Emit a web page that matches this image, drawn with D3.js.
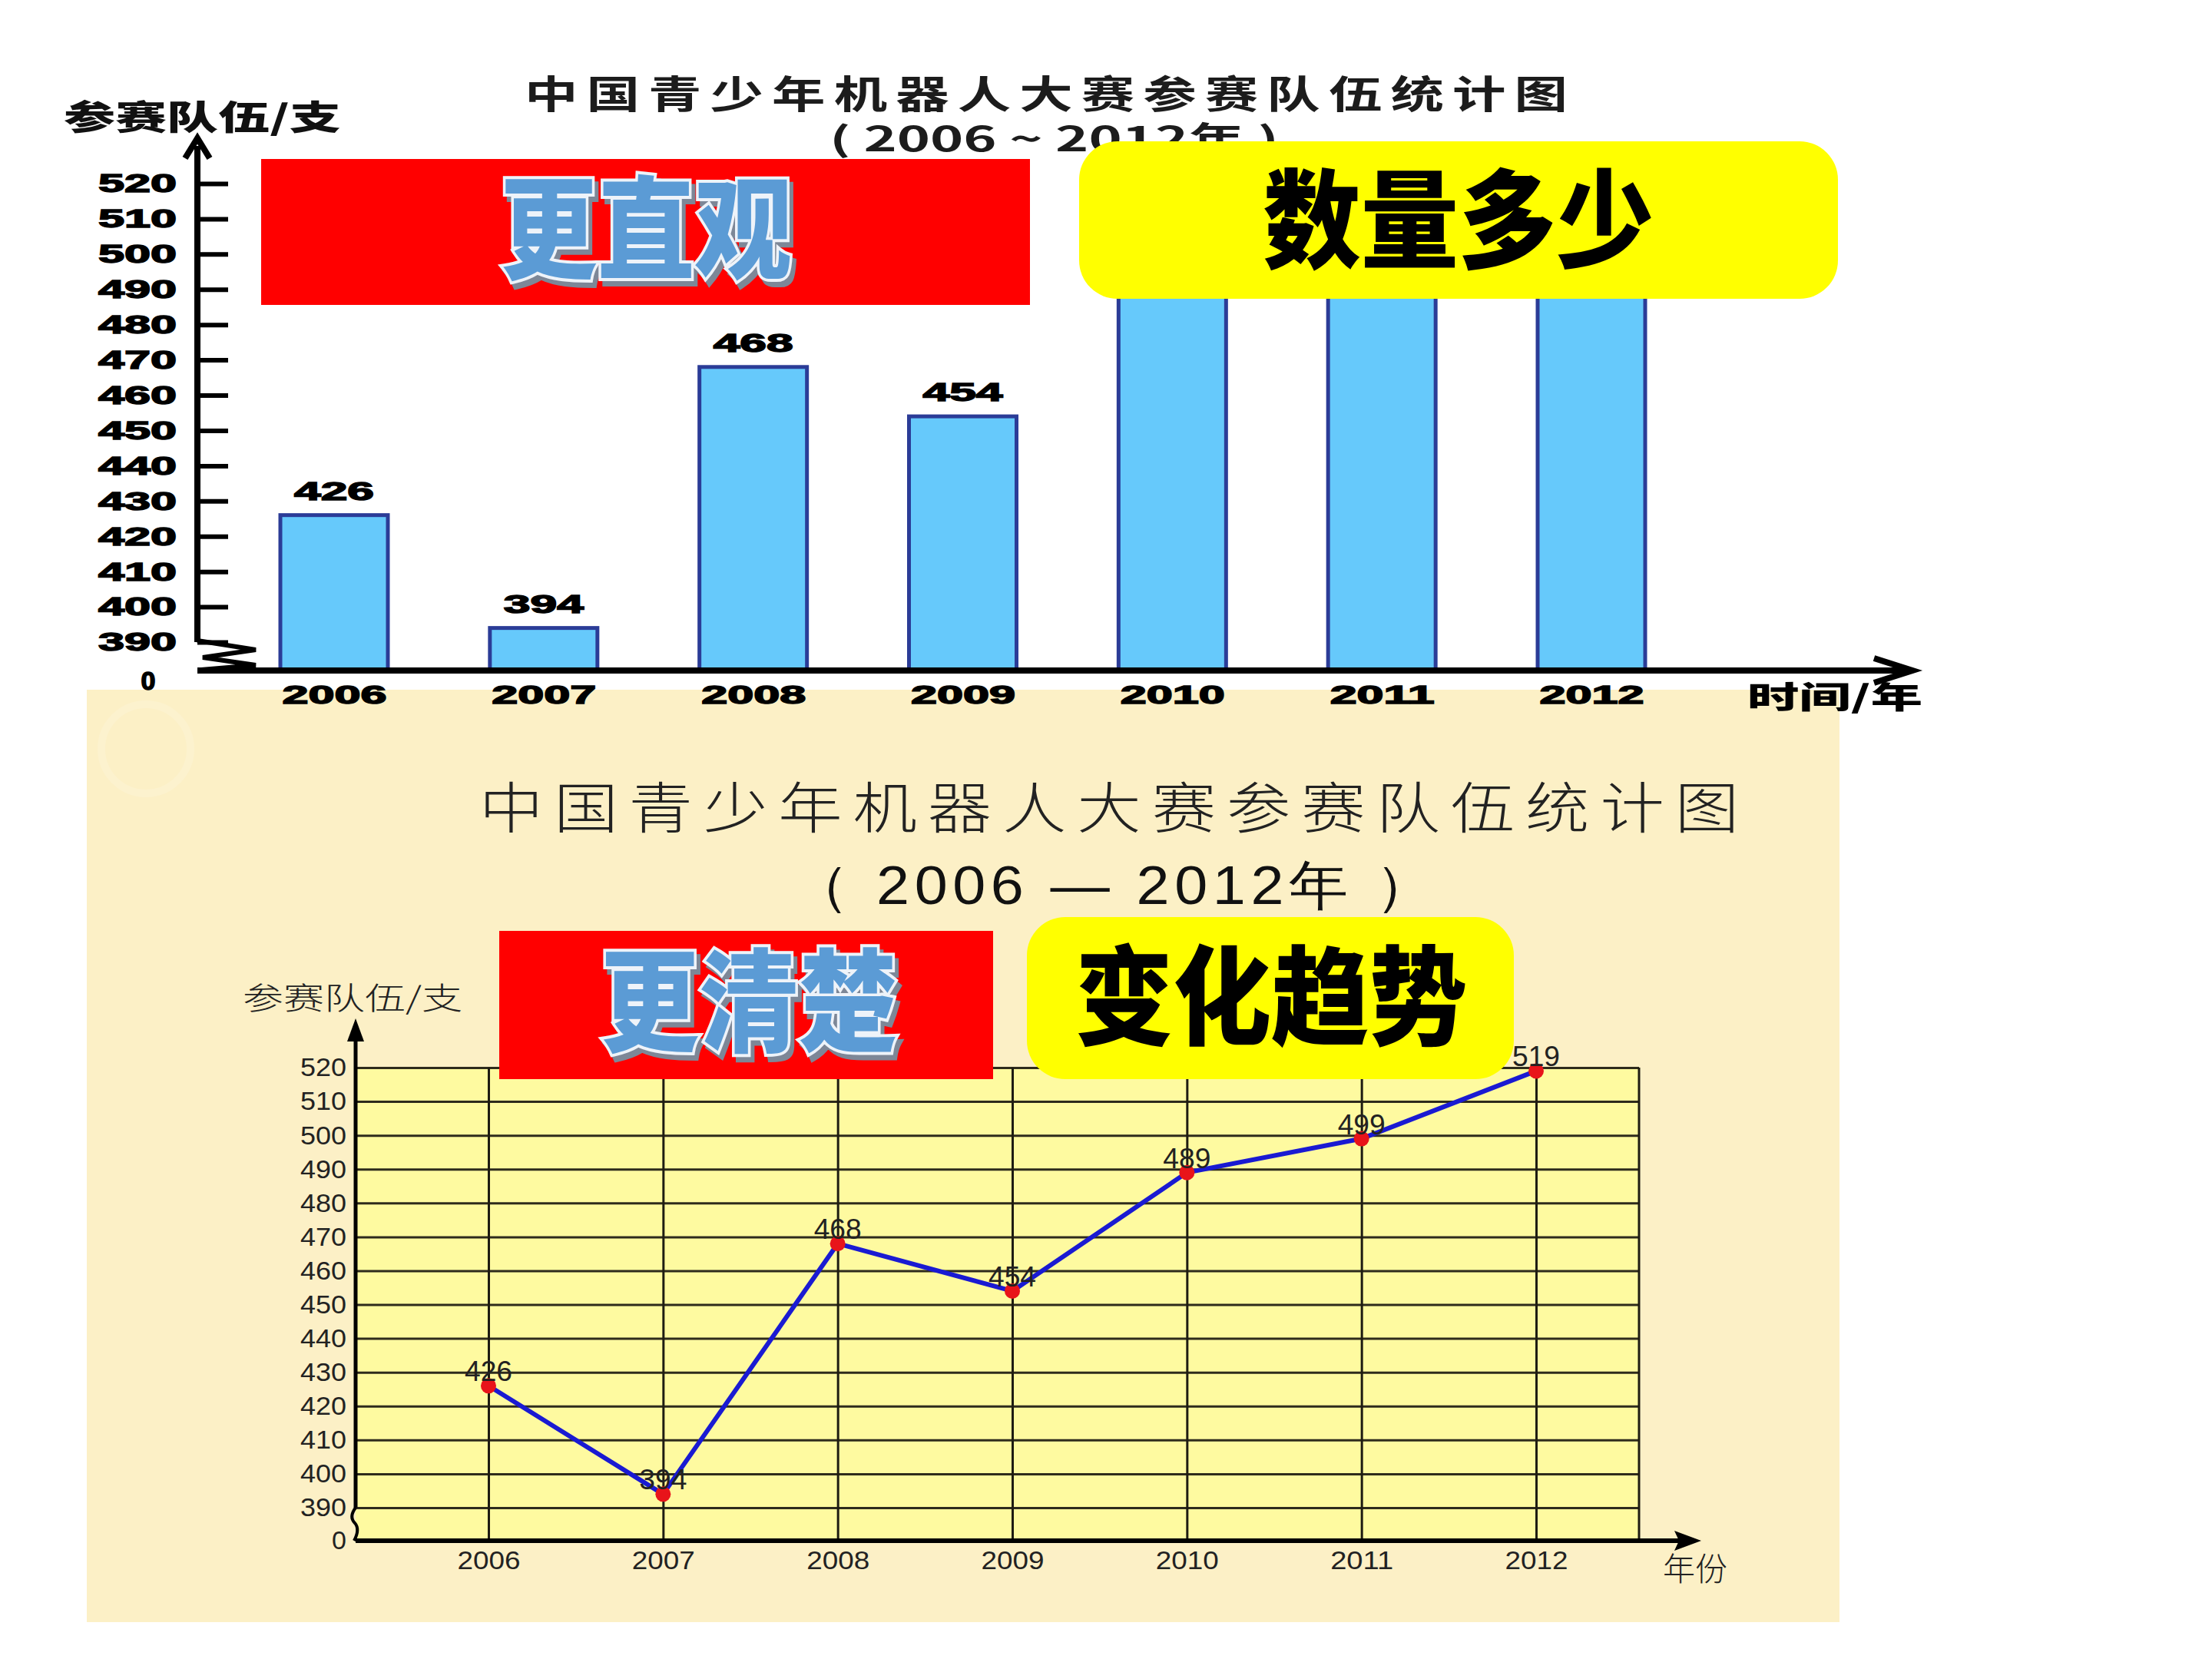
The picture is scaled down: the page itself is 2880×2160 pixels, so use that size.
<!DOCTYPE html>
<html>
<head>
<meta charset="utf-8">
<script src="https://cdn.jsdelivr.net/npm/d3@7"></script>
<style>
  body { margin: 0; background: #fff; }
  svg { display: block; }
</style>
</head>
<body>
<svg id="chart"></svg>
<script>
// data
const years = ['2006', '2007', '2008', '2009', '2010', '2011', '2012'];
const teams = [426, 394, 468, 454, 489, 499, 519];
const yTicks = [390, 400, 410, 420, 430, 440, 450, 460, 470, 480, 490, 500, 510, 520];
const title = '中国青少年机器人大赛参赛队伍统计图';
const subTitleTop = '( 2006 ~ 2012年 )';
const subTitleBottom = '（ 2006 — 2012年 ）';
const yLabel = '参赛队伍/支';
const xLabelTop = '时间/年';
const xLabelBottom = '年份';
const notes = ['更直观', '数量多少', '更清楚', '变化趋势'];

const W = 2880, H = 2160;
const cjk = '"Noto Sans CJK SC", "Noto Sans", sans-serif';
const latin = '"Liberation Sans", Arial, sans-serif';

const svg = d3.select('#chart').attr('width', W).attr('height', H);
svg.append('rect').attr('width', W).attr('height', H).attr('fill', '#fff');

const rows = years.map((y, i) => ({year: y, value: teams[i]}));

// beige panel of the lower picture sits under everything
const gPanel = svg.append('g');
gPanel.append('rect')
    .attr('x', 113).attr('y', 898).attr('width', 2282).attr('height', 1214)
    .attr('fill', '#fcf0c6');
gPanel.append('circle')
    .attr('cx', 190).attr('cy', 975).attr('r', 58)
    .attr('fill', 'none').attr('stroke', '#fcf2ce').attr('stroke-width', 10);

// ---------- top: bar chart ----------
const gTop = svg.append('g');
const xTop = d3.scalePoint().domain(years).range([435, 2072]);
const yTop = d3.scaleLinear().domain([390, 520]).range([836, 239]);
const baseTop = 873;
const barW = 140;

gTop.append('text')
    .attr('x', 683).attr('y', 141)
    .attr('textLength', 1369).attr('lengthAdjust', 'spacingAndGlyphs')
    .attr('font-family', cjk).attr('font-weight', 700).attr('font-size', 50)
    .attr('letter-spacing', 8)
    .attr('fill', '#1c1c1c')
    .text(title);

gTop.append('text')
    .attr('x', 1080).attr('y', 197)
    .attr('textLength', 585).attr('lengthAdjust', 'spacingAndGlyphs')
    .attr('font-family', cjk).attr('font-weight', 700).attr('font-size', 44)
    .attr('fill', '#1c1c1c')
    .text(subTitleTop);

gTop.append('text')
    .attr('x', 83).attr('y', 169)
    .attr('textLength', 361).attr('lengthAdjust', 'spacingAndGlyphs')
    .attr('font-family', cjk).attr('font-weight', 900).attr('font-size', 44)
    .attr('fill', '#111')
    .text(yLabel);

const yAxisTop = gTop.append('g')
    .attr('transform', `translate(257,0)`)
    .call(d3.axisLeft(yTop).tickValues(yTicks).tickSize(-40).tickPadding(27));
yAxisTop.select('.domain').remove();
yAxisTop.selectAll('.tick line').attr('stroke', '#000').attr('stroke-width', 6);
yAxisTop.selectAll('.tick text')
    .attr('font-family', latin).attr('font-weight', 900).attr('font-size', 34)
    .attr('textLength', 102).attr('lengthAdjust', 'spacingAndGlyphs')
    .attr('fill', '#000').attr('stroke', '#000').attr('stroke-width', 1.5);

gTop.append('text')
    .attr('x', 193).attr('y', baseTop + 25)
    .attr('text-anchor', 'middle')
    .attr('font-family', latin).attr('font-weight', 900).attr('font-size', 34)
    .attr('stroke', '#000').attr('stroke-width', 1.5)
    .text('0');

// bars
gTop.selectAll('rect.bar')
    .data(rows)
    .join('rect')
    .attr('class', 'bar')
    .attr('x', d => xTop(d.year) - barW / 2)
    .attr('y', d => yTop(d.value))
    .attr('width', barW)
    .attr('height', d => baseTop - yTop(d.value))
    .attr('fill', '#66c9fb')
    .attr('stroke', '#2b3c97')
    .attr('stroke-width', 5);

gTop.selectAll('text.val')
    .data(rows)
    .join('text')
    .attr('class', 'val')
    .attr('x', d => xTop(d.year))
    .attr('y', d => yTop(d.value) - 20)
    .attr('text-anchor', 'middle')
    .attr('textLength', 104).attr('lengthAdjust', 'spacingAndGlyphs')
    .attr('font-family', latin).attr('font-weight', 900).attr('font-size', 34)
    .attr('stroke', '#000').attr('stroke-width', 1.5)
    .text(d => d.value);

// axes lines with the break
gTop.append('path')
    .attr('d', `M257,836 L257,190 M241,206 L257,180 L273,206`)
    .attr('fill', 'none').attr('stroke', '#000').attr('stroke-width', 8);
gTop.append('path')
    .attr('d', `M257,834 L333,846 L264,856 L333,866 L262,872`)
    .attr('fill', 'none').attr('stroke', '#000').attr('stroke-width', 6)
    .attr('stroke-linejoin', 'miter');
gTop.append('path')
    .attr('d', `M257,${baseTop} L2480,${baseTop} M2440,857 L2490,${baseTop} L2440,889`)
    .attr('fill', 'none').attr('stroke', '#000').attr('stroke-width', 8);

const xAxisTop = gTop.append('g')
    .attr('transform', `translate(0,${baseTop})`)
    .call(d3.axisBottom(xTop).tickSize(0).tickPadding(19));
xAxisTop.select('.domain').remove();
xAxisTop.selectAll('.tick text')
    .attr('font-family', latin).attr('font-weight', 900).attr('font-size', 34)
    .attr('textLength', 136).attr('lengthAdjust', 'spacingAndGlyphs')
    .attr('fill', '#000').attr('stroke', '#000').attr('stroke-width', 1.5);

gTop.append('text')
    .attr('x', 2275).attr('y', 922)
    .attr('textLength', 228).attr('lengthAdjust', 'spacingAndGlyphs')
    .attr('font-family', cjk).attr('font-weight', 900).attr('font-size', 40)
    .text(xLabelTop);

// ---------- bottom: line chart ----------
const gBot = svg.append('g');

gBot.append('text')
    .attr('x', 624).attr('y', 1078)
    .attr('textLength', 1654).attr('lengthAdjust', 'spacingAndGlyphs')
    .attr('font-family', cjk).attr('font-weight', 300).attr('font-size', 72)
    .attr('letter-spacing', 12)
    .attr('fill', '#222')
    .text(title);
gBot.append('text')
    .attr('x', 1029).attr('y', 1177)
    .attr('textLength', 845).attr('lengthAdjust', 'spacingAndGlyphs')
    .attr('font-family', latin).attr('font-size', 70)
    .attr('letter-spacing', 6)
    .attr('fill', '#111')
    .text(subTitleBottom);

const xBot = d3.scalePoint().domain(years).range([636, 2000]);
const yBot = d3.scaleLinear().domain([390, 520]).range([1963, 1390]);
const left = 463, right = 2134, baseBot = 2006;

gBot.append('rect')
    .attr('x', left).attr('y', yBot(520))
    .attr('width', right - left).attr('height', baseBot - yBot(520))
    .attr('fill', '#fefaa0');

const yAxisBot = gBot.append('g')
    .attr('transform', `translate(${left},0)`)
    .call(d3.axisLeft(yBot).tickValues(yTicks).tickSize(-(right - left)).tickPadding(12));
yAxisBot.select('.domain').remove();
yAxisBot.selectAll('.tick line').attr('stroke', '#2e2b1c').attr('stroke-width', 3);
yAxisBot.selectAll('.tick text')
    .attr('font-family', latin).attr('font-size', 34).attr('fill', '#222')
    .attr('textLength', 60).attr('lengthAdjust', 'spacingAndGlyphs');

const xAxisBot = gBot.append('g')
    .attr('transform', `translate(0,${baseBot})`)
    .call(d3.axisBottom(xBot).tickSize(-(baseBot - yBot(520))).tickPadding(13));
xAxisBot.select('.domain').remove();
xAxisBot.selectAll('.tick line').attr('stroke', '#1e1c12').attr('stroke-width', 3);
xAxisBot.selectAll('.tick text')
    .attr('font-family', latin).attr('font-size', 34).attr('fill', '#222')
    .attr('textLength', 82).attr('lengthAdjust', 'spacingAndGlyphs');

gBot.append('line')
    .attr('x1', right).attr('x2', right).attr('y1', yBot(520)).attr('y2', baseBot)
    .attr('stroke', '#1e1c12').attr('stroke-width', 3);

gBot.append('text')
    .attr('x', left - 12).attr('y', baseBot + 11)
    .attr('text-anchor', 'end')
    .attr('font-family', latin).attr('font-size', 34).attr('fill', '#222')
    .text('0');

// axes with arrows and the break
gBot.append('path')
    .attr('d', `M${left},1963 L${left},1350`)
    .attr('stroke', '#000').attr('stroke-width', 5);
gBot.append('path')
    .attr('d', `M${left},1326 L${left - 11},1356 L${left + 11},1356 Z`)
    .attr('fill', '#000');
gBot.append('path')
    .attr('d', `M${left},1963 q-9,12 -1,20 q7,8 -1,23`)
    .attr('fill', 'none').attr('stroke', '#000').attr('stroke-width', 4);
gBot.append('path')
    .attr('d', `M${left},${baseBot} L2190,${baseBot}`)
    .attr('stroke', '#000').attr('stroke-width', 6);
gBot.append('path')
    .attr('d', `M2215,${baseBot} L2180,${baseBot - 13} L2186,${baseBot} L2180,${baseBot + 13} Z`)
    .attr('fill', '#000');

gBot.append('text')
    .attr('x', 316).attr('y', 1314)
    .attr('textLength', 286).attr('lengthAdjust', 'spacingAndGlyphs')
    .attr('font-family', cjk).attr('font-weight', 300).attr('font-size', 40)
    .attr('fill', '#222')
    .text(yLabel);
gBot.append('text')
    .attr('x', 2165).attr('y', 2058)
    .attr('font-family', cjk).attr('font-weight', 300).attr('font-size', 42)
    .attr('fill', '#222')
    .text(xLabelBottom);

// the line and its points
const line = d3.line().x(d => xBot(d.year)).y(d => yBot(d.value));
gBot.append('path')
    .datum(rows)
    .attr('d', line)
    .attr('fill', 'none').attr('stroke', '#1a1ad2').attr('stroke-width', 6)
    .attr('stroke-linejoin', 'round');
gBot.selectAll('circle.pt')
    .data(rows)
    .join('circle')
    .attr('class', 'pt')
    .attr('cx', d => xBot(d.year)).attr('cy', d => yBot(d.value))
    .attr('r', 10).attr('fill', '#e8141a');
gBot.selectAll('text.pv')
    .data(rows)
    .join('text')
    .attr('class', 'pv')
    .attr('x', d => xBot(d.year)).attr('y', d => yBot(d.value) - 6)
    .attr('text-anchor', 'middle')
    .attr('font-family', latin).attr('font-size', 36).attr('fill', '#222')
    .attr('textLength', 62).attr('lengthAdjust', 'spacingAndGlyphs')
    .text(d => d.value);

// ---------- callout boxes ----------
function outlinedText(g, txt, x, y, len, size) {
    const t = g.append('g');
    t.append('text')
        .attr('x', x + 5).attr('y', y + 7)
        .attr('text-anchor', 'middle')
        .attr('textLength', len).attr('lengthAdjust', 'spacingAndGlyphs')
        .attr('font-family', cjk).attr('font-weight', 900).attr('font-size', size)
        .attr('fill', '#7d8797').attr('stroke', '#7d8797').attr('stroke-width', 8)
        .text(txt);
    t.append('text')
        .attr('x', x).attr('y', y)
        .attr('text-anchor', 'middle')
        .attr('textLength', len).attr('lengthAdjust', 'spacingAndGlyphs')
        .attr('font-family', cjk).attr('font-weight', 900).attr('font-size', size)
        .attr('fill', '#5b9bd5').attr('stroke', '#eef3f9').attr('stroke-width', 8)
        .attr('paint-order', 'stroke')
        .text(txt);
}

const boxes = svg.append('g');
boxes.append('rect').attr('x', 340).attr('y', 207).attr('width', 1001).attr('height', 190).attr('fill', '#ff0000');
outlinedText(boxes, notes[0], 841, 352, 380, 145);

boxes.append('rect').attr('x', 1405).attr('y', 184).attr('width', 988).attr('height', 205)
    .attr('rx', 50).attr('fill', '#ffff00');
boxes.append('text')
    .attr('x', 1899).attr('y', 338)
    .attr('text-anchor', 'middle')
    .attr('textLength', 509).attr('lengthAdjust', 'spacingAndGlyphs')
    .attr('font-family', cjk).attr('font-weight', 900).attr('font-size', 140)
    .attr('fill', '#000')
    .text(notes[1]);

boxes.append('rect').attr('x', 650).attr('y', 1212).attr('width', 643).attr('height', 193).attr('fill', '#ff0000');
outlinedText(boxes, notes[2], 975, 1358, 387, 145);

boxes.append('rect').attr('x', 1337).attr('y', 1194).attr('width', 634).attr('height', 211)
    .attr('rx', 50).attr('fill', '#ffff00');
boxes.append('text')
    .attr('x', 1655).attr('y', 1349)
    .attr('text-anchor', 'middle')
    .attr('textLength', 510).attr('lengthAdjust', 'spacingAndGlyphs')
    .attr('font-family', cjk).attr('font-weight', 900).attr('font-size', 140)
    .attr('fill', '#000')
    .text(notes[3]);
</script>
</body>
</html>
